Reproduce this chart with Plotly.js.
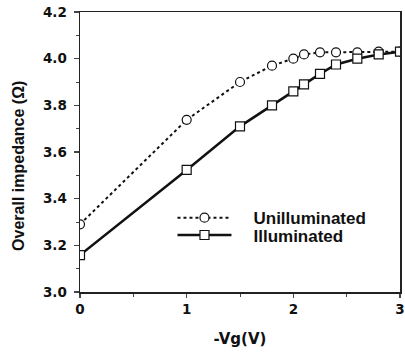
<!DOCTYPE html>
<html>
<head>
<meta charset="utf-8">
<script src="https://cdn.plot.ly/plotly-3.0.1.min.js"></script>
<style>html,body{margin:0;padding:0;background:#fff;}#chart{width:405px;height:352px;}</style>
</head>
<body>
<div id="chart"></div>
<script>
const vgUn = [0, 1, 1.5, 1.8, 2.0, 2.1, 2.25, 2.4, 2.6, 2.8, 3.0];
const zUn = [3.29, 3.738, 3.90, 3.97, 4.00, 4.018, 4.027, 4.027, 4.027, 4.03, 4.03];
const vgIl = [0, 1, 1.5, 1.8, 2.0, 2.1, 2.25, 2.4, 2.6, 2.8, 3.0];
const zIl = [3.158, 3.523, 3.71, 3.80, 3.86, 3.89, 3.935, 3.975, 4.0, 4.018, 4.03];
const seriesNames = ['Unilluminated', 'Illuminated'];
const xTitle = '-Vg(V)';
const yTitle = 'Overall impedance (Ω)';

const tickFam = 'DejaVu Sans, sans-serif';
const legFam = 'Liberation Sans, Arial, sans-serif';
const pad = '\u2003';
const traces = [
  {x: vgUn, y: zUn, name: pad + seriesNames[0], mode: 'lines+markers', legend: 'legend',
   line: {color: '#111', width: 2, dash: 'dot'},
   marker: {symbol: 'circle', size: 9, color: '#fff', line: {color: '#111', width: 1.2}}},
  {x: vgIl, y: zIl, name: pad + seriesNames[1], mode: 'lines+markers', legend: 'legend2',
   line: {color: '#111', width: 2.5},
   marker: {symbol: 'square', size: 9, color: '#fff', line: {color: '#111', width: 1.2}}}
];
const legBase = {xanchor: 'left', yanchor: 'middle', bgcolor: 'rgba(0,0,0,0)', itemwidth: 54,
                 font: {family: legFam, size: 17, weight: 'bold', color: '#111'}};
const layout = {
  width: 405, height: 352,
  margin: {l: 80, r: 5, t: 12, b: 60},
  paper_bgcolor: '#fff', plot_bgcolor: '#fff',
  font: {family: tickFam, size: 14, color: '#111', weight: 'bold'},
  showlegend: true,
  legend: Object.assign({x: 0.289, y: 0.264}, legBase),
  legend2: Object.assign({x: 0.289, y: 0.202}, legBase),
  annotations: [{text: yTitle, xref: 'paper', yref: 'paper', x: -0.194, y: 0.45,
                 xanchor: 'center', yanchor: 'middle', textangle: -90, showarrow: false,
                 font: {family: legFam, size: 16, weight: 'bold', color: '#111'}}],
  xaxis: {range: [0, 3], tickvals: [0, 1, 2, 3], ticks: 'outside', ticklen: 4, tickwidth: 1.2,
          minor: {tickvals: [0.5, 1.5, 2.5], ticks: 'outside', ticklen: 3, tickwidth: 1},
          showline: true, linecolor: '#222', linewidth: 1.5, mirror: true, showgrid: false, zeroline: false,
          tickfont: {family: tickFam, size: 13.5, weight: 'bold'},
          title: {text: xTitle, font: {family: tickFam, size: 15, weight: 'bold'}, standoff: 18}},
  yaxis: {range: [3.0, 4.2], dtick: 0.2, tickformat: '.1f', ticks: 'outside', ticklen: 5, tickwidth: 1.2,
          ticklabelstandoff: 4,
          minor: {dtick: 0.1, ticks: 'outside', ticklen: 3, tickwidth: 1},
          showline: true, linecolor: '#222', linewidth: 1.5, mirror: true, showgrid: false, zeroline: false,
          tickfont: {family: tickFam, size: 13.5, weight: 'bold'}}
};
Plotly.newPlot('chart', traces, layout, {displayModeBar: false, staticPlot: true});
</script>
</body>
</html>
